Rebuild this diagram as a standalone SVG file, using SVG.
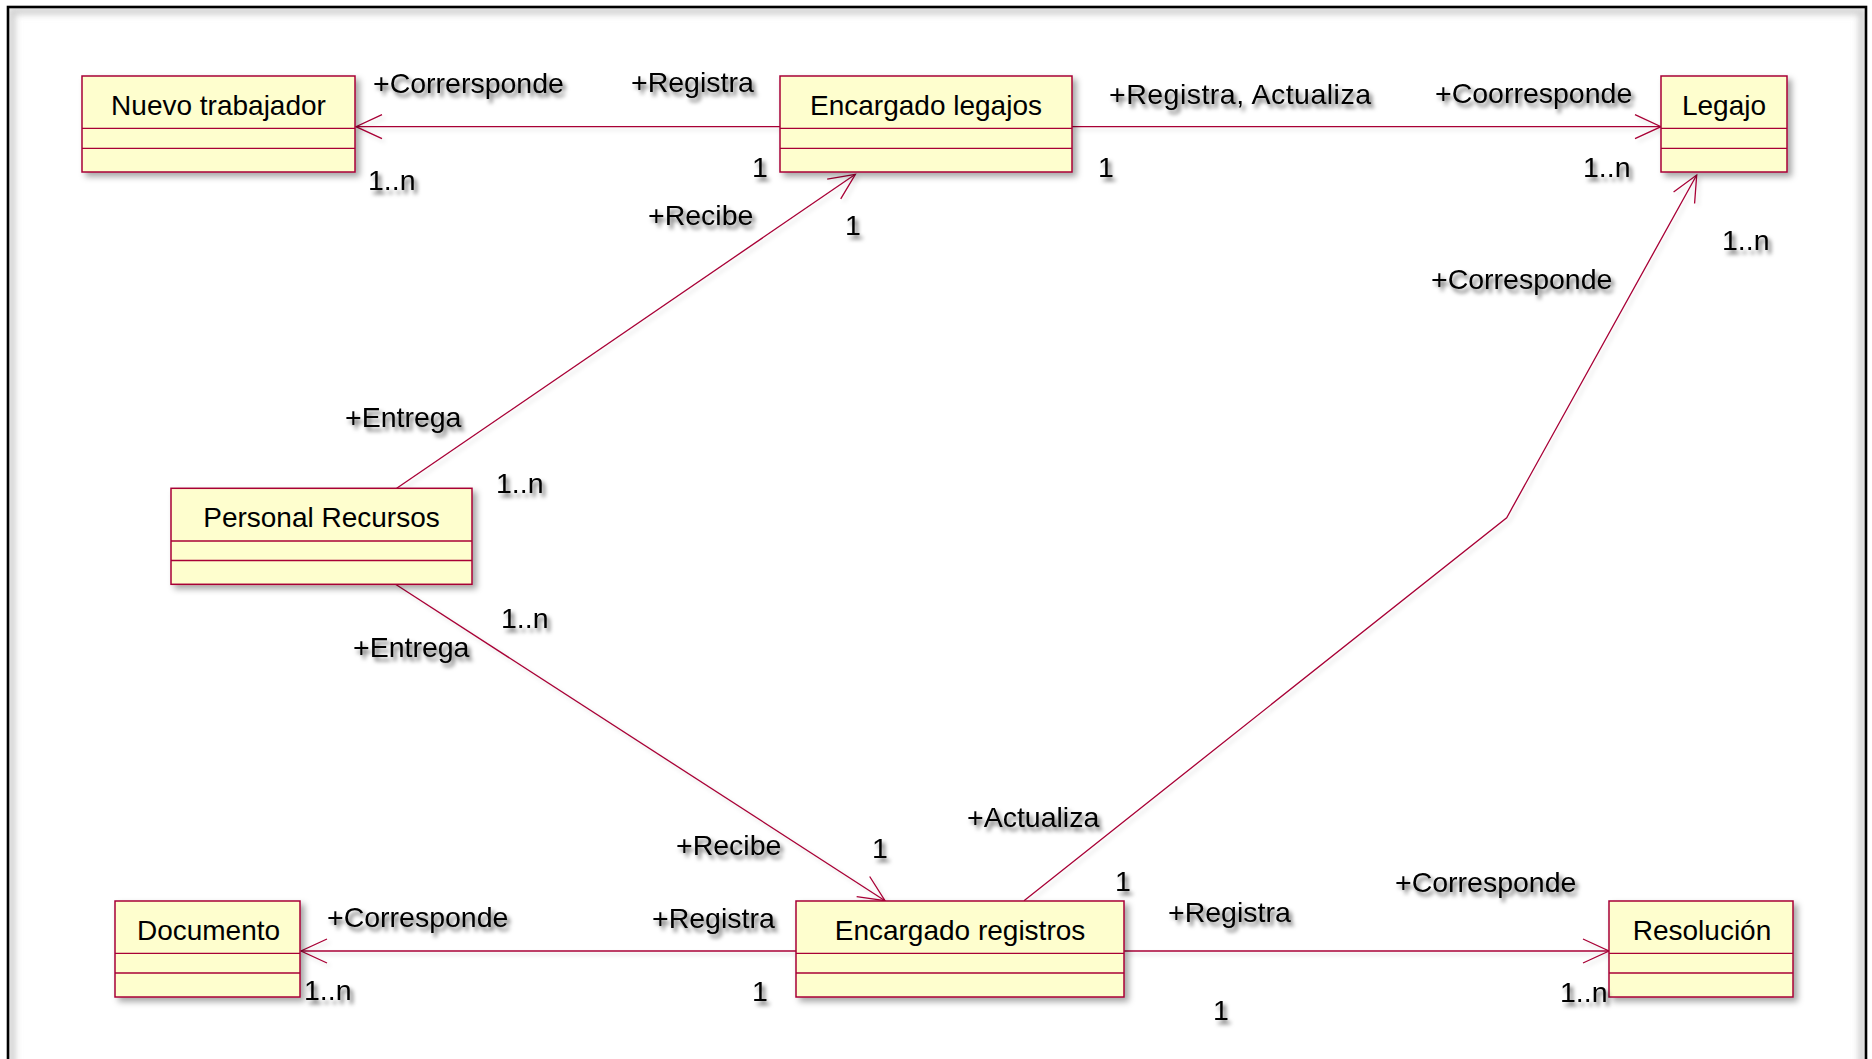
<svg xmlns="http://www.w3.org/2000/svg" width="1872" height="1059" viewBox="0 0 1872 1059">
  <style>
    .box { fill: #FEFECE; stroke: #A80036; stroke-width: 1.5; }
    .sep { stroke: #A80036; stroke-width: 1.3; }
    .name { font-family: "Liberation Sans", Arial, sans-serif; font-size: 28px; fill: #000; text-anchor: middle; }
    .lbl { font-family: "Liberation Sans", Arial, sans-serif; font-size: 28.5px; fill: #000; }
    .edge { fill: none; stroke: #A80036; stroke-width: 1.3; }
  </style>
  <defs>
    <filter id="boxShadow" x="-10%" y="-10%" width="130%" height="140%">
      <feDropShadow dx="4" dy="4" stdDeviation="3" flood-color="#000" flood-opacity="0.35"/>
    </filter>
    <filter id="textShadow" x="-10%" y="-30%" width="130%" height="170%">
      <feDropShadow dx="3" dy="4" stdDeviation="2.2" flood-color="#000" flood-opacity="0.6"/>
    </filter>
    <filter id="lineShadow" x="-5%" y="-5%" width="110%" height="110%">
      <feDropShadow dx="3" dy="3" stdDeviation="2" flood-color="#000" flood-opacity="0.15"/>
    </filter>
    <filter id="soft" x="-5%" y="-5%" width="110%" height="110%">
      <feGaussianBlur stdDeviation="3"/>
    </filter>
    <clipPath id="inside">
      <rect x="9" y="8" width="1856" height="1060"/>
    </clipPath>
    <marker id="open" viewBox="-28 -14 30 28" markerWidth="30" markerHeight="28" refX="0" refY="0" orient="auto" markerUnits="userSpaceOnUse" overflow="visible">
      <path d="M-26,-12 L0,0 L-26,12" fill="none" stroke="#A80036" stroke-width="1.3"/>
    </marker>
  </defs>

  <!-- page background and frame -->
  <rect x="0" y="0" width="1872" height="1059" fill="#fff"/>
  <g clip-path="url(#inside)">
    <rect x="12" y="11" width="1850" height="1100" fill="none" stroke="#cfcfcf" stroke-width="7" filter="url(#soft)"/>
  </g>
  <rect x="8" y="7" width="1858" height="1100" fill="none" stroke="#000" stroke-width="2.6"/>

  <!-- associations -->
  <g id="connectors" filter="url(#lineShadow)">
    <path class="edge" d="M780,126.7 L356,126.7" marker-end="url(#open)"/>
    <path class="edge" d="M1071.7,126.7 L1661,126.7" marker-end="url(#open)"/>
    <path class="edge" d="M396.7,488.3 L855.4,174.3" marker-end="url(#open)"/>
    <path class="edge" d="M395.5,584.3 L885,900.7" marker-end="url(#open)"/>
    <path class="edge" d="M1024,900.7 L1506.7,517.7 L1696.7,175" marker-end="url(#open)"/>
    <path class="edge" d="M796,951 L301,951" marker-end="url(#open)"/>
    <path class="edge" d="M1124,951 L1609,951" marker-end="url(#open)"/>
  </g>

  <!-- classes -->
  <g id="nuevo-trabajador">
    <rect class="box" x="82" y="76" width="273" height="96" filter="url(#boxShadow)"/>
    <line class="sep" x1="82" y1="128.3" x2="355" y2="128.3"/>
    <line class="sep" x1="82" y1="148.3" x2="355" y2="148.3"/>
    <text class="name" x="218.5" y="115">Nuevo trabajador</text>
  </g>
  <g id="encargado-legajos">
    <rect class="box" x="780" y="76" width="292" height="96" filter="url(#boxShadow)"/>
    <line class="sep" x1="780" y1="128.3" x2="1072" y2="128.3"/>
    <line class="sep" x1="780" y1="148.3" x2="1072" y2="148.3"/>
    <text class="name" x="926" y="115">Encargado legajos</text>
  </g>
  <g id="legajo">
    <rect class="box" x="1661" y="76" width="126" height="96" filter="url(#boxShadow)"/>
    <line class="sep" x1="1661" y1="128.3" x2="1787" y2="128.3"/>
    <line class="sep" x1="1661" y1="148.3" x2="1787" y2="148.3"/>
    <text class="name" x="1724" y="115">Legajo</text>
  </g>
  <g id="personal-recursos">
    <rect class="box" x="171" y="488.3" width="301" height="96" filter="url(#boxShadow)"/>
    <line class="sep" x1="171" y1="541" x2="472" y2="541"/>
    <line class="sep" x1="171" y1="560.5" x2="472" y2="560.5"/>
    <text class="name" x="321.5" y="527.3">Personal Recursos</text>
  </g>
  <g id="documento">
    <rect class="box" x="115" y="901" width="185" height="96" filter="url(#boxShadow)"/>
    <line class="sep" x1="115" y1="953.3" x2="300" y2="953.3"/>
    <line class="sep" x1="115" y1="973" x2="300" y2="973"/>
    <text class="name" x="208.5" y="940">Documento</text>
  </g>
  <g id="encargado-registros">
    <rect class="box" x="796" y="901" width="328" height="96" filter="url(#boxShadow)"/>
    <line class="sep" x1="796" y1="953.3" x2="1124" y2="953.3"/>
    <line class="sep" x1="796" y1="973" x2="1124" y2="973"/>
    <text class="name" x="960" y="940">Encargado registros</text>
  </g>
  <g id="resolucion">
    <rect class="box" x="1609" y="901" width="184" height="96" filter="url(#boxShadow)"/>
    <line class="sep" x1="1609" y1="953.3" x2="1793" y2="953.3"/>
    <line class="sep" x1="1609" y1="973" x2="1793" y2="973"/>
    <text class="name" x="1702" y="940">Resolución</text>
  </g>

  <!-- role names and multiplicities -->
  <g id="labels" filter="url(#textShadow)">
    <text class="lbl" x="373" y="93">+Corrersponde</text>
    <text class="lbl" x="368" y="190">1..n</text>
    <text class="lbl" x="631" y="92">+Registra</text>
    <text class="lbl" x="752" y="177">1</text>
    <text class="lbl" x="1109" y="104" textLength="262" lengthAdjust="spacing">+Registra, Actualiza</text>
    <text class="lbl" x="1098" y="177">1</text>
    <text class="lbl" x="1435" y="103">+Coorresponde</text>
    <text class="lbl" x="1583" y="177">1..n</text>
    <text class="lbl" x="648" y="225">+Recibe</text>
    <text class="lbl" x="845" y="235">1</text>
    <text class="lbl" x="1722" y="250">1..n</text>
    <text class="lbl" x="1431" y="289">+Corresponde</text>

    <text class="lbl" x="345" y="427">+Entrega</text>
    <text class="lbl" x="496" y="493">1..n</text>
    <text class="lbl" x="501" y="628">1..n</text>
    <text class="lbl" x="353" y="657">+Entrega</text>

    <text class="lbl" x="676" y="855">+Recibe</text>
    <text class="lbl" x="872" y="858">1</text>
    <text class="lbl" x="967" y="827">+Actualiza</text>
    <text class="lbl" x="1115" y="891">1</text>
    <text class="lbl" x="1395" y="892">+Corresponde</text>
    <text class="lbl" x="1168" y="922">+Registra</text>
    <text class="lbl" x="652" y="928">+Registra</text>
    <text class="lbl" x="327" y="927">+Corresponde</text>
    <text class="lbl" x="304" y="1000">1..n</text>
    <text class="lbl" x="752" y="1001">1</text>
    <text class="lbl" x="1213" y="1020">1</text>
    <text class="lbl" x="1560" y="1002">1..n</text>
  </g>
</svg>
